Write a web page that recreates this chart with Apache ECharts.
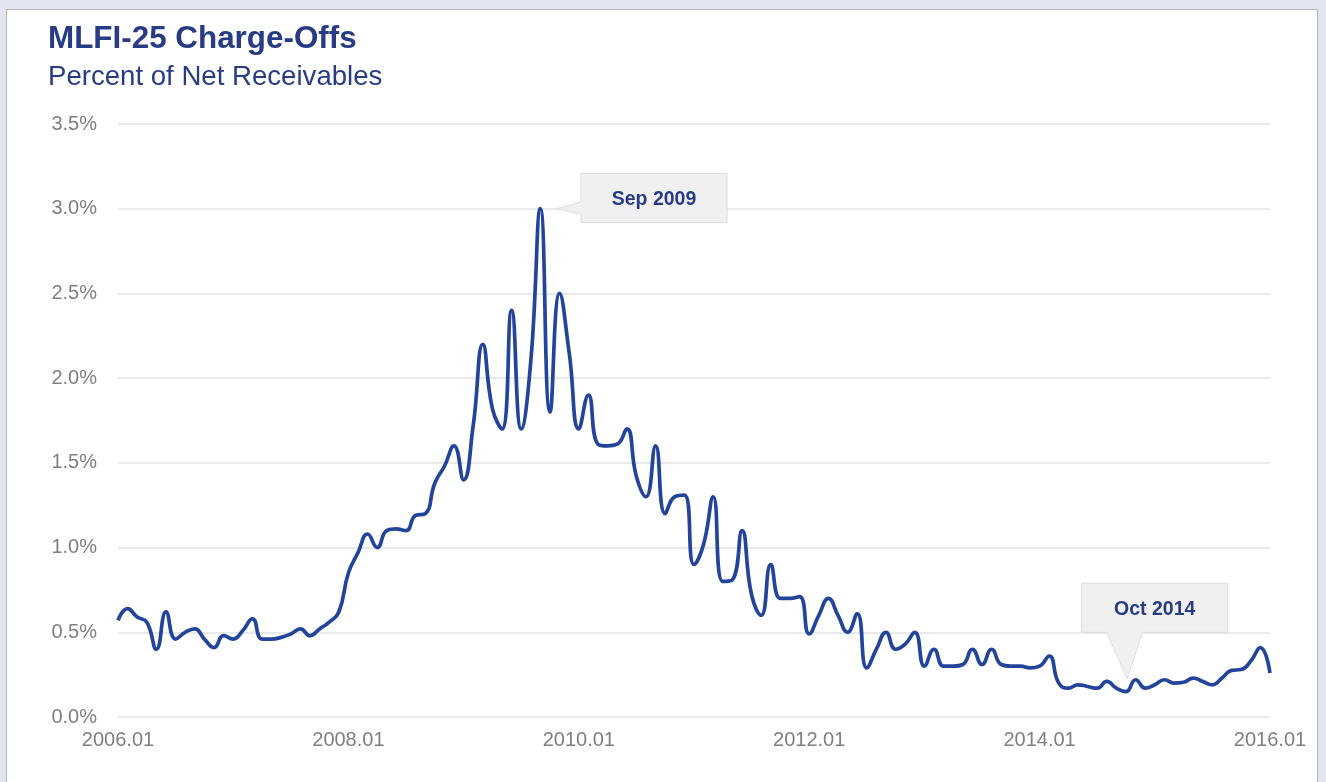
<!DOCTYPE html>
<html>
<head>
<meta charset="utf-8">
<script src="https://cdn.jsdelivr.net/npm/echarts@6/dist/echarts.min.js"></script>
<style>
  html, body { margin: 0; padding: 0; width: 1326px; height: 782px; overflow: hidden; background: #e1e6f0; }
  #panel { position: absolute; left: 6px; top: 9px; width: 1312px; height: 800px; background: #ffffff; border: 1px solid #b4b4b4; box-sizing: border-box; }
  #chart { position: absolute; left: 0; top: 0; width: 1326px; height: 782px; }
</style>
</head>
<body>
<div id="panel"></div>
<div id="chart"></div>
<script>
// Chart data
const titleText = 'MLFI-25 Charge-Offs';
const subtitleText = 'Percent of Net Receivables';
const startYear = 2006;
const monthCount = 121; // 2006.01 .. 2016.01
const chargeOffs = [
  0.57, 0.64, 0.59, 0.56, 0.40, 0.62, 0.46, 0.50, 0.52, 0.46, 0.41, 0.48,
  0.46, 0.51, 0.58, 0.46, 0.46, 0.47, 0.49, 0.52, 0.48, 0.52, 0.56, 0.62,
  0.85, 0.97, 1.08, 1.00, 1.10, 1.11, 1.10, 1.19, 1.20, 1.38, 1.48, 1.60,
  1.40, 1.72, 2.20, 1.82, 1.70, 2.40, 1.70, 2.10, 3.00, 1.80, 2.50, 2.15,
  1.70, 1.90, 1.61, 1.60, 1.61, 1.70, 1.42, 1.30, 1.60, 1.20, 1.30, 1.31,
  0.90, 1.02, 1.30, 0.80, 0.81, 1.10, 0.72, 0.60, 0.90, 0.70, 0.70, 0.71,
  0.49, 0.60, 0.70, 0.60, 0.50, 0.61, 0.29, 0.40, 0.50, 0.40, 0.43, 0.50,
  0.30, 0.40, 0.30, 0.30, 0.31, 0.40, 0.31, 0.40, 0.31, 0.30, 0.30, 0.29,
  0.30, 0.36, 0.20, 0.17, 0.19, 0.18, 0.17, 0.21, 0.17, 0.15, 0.22, 0.17,
  0.19, 0.22, 0.20, 0.205, 0.23, 0.21, 0.19, 0.23, 0.275, 0.28, 0.33, 0.41,
  0.26
];
const yTicks = [0, 0.5, 1.0, 1.5, 2.0, 2.5, 3.0, 3.5];
const callouts = [
  { label: 'Sep 2009', index: 44 },
  { label: 'Oct 2014', index: 105 }
];

const months = [];
for (let i = 0; i < monthCount; i++) {
  const y = startYear + Math.floor(i / 12);
  const m = (i % 12) + 1;
  months.push(y + '.' + (m < 10 ? '0' + m : m));
}

const navy = '#283c85';
const lineColor = '#22449a';
const font = 'Liberation Sans, Arial, sans-serif';
const chart = echarts.init(document.getElementById('chart'), null, { renderer: 'canvas' });

chart.setOption({
  animation: false,
  backgroundColor: 'transparent',
  title: [
    { text: titleText, left: 48, top: 24, padding: 0, textStyle: { fontFamily: font, fontSize: 31.4, fontWeight: 'bold', color: navy } },
    { text: subtitleText, left: 48, top: 63, padding: 0, textStyle: { fontFamily: font, fontSize: 27.6, fontWeight: 'normal', color: navy } }
  ],
  grid: { left: 118, right: 56, top: 124, bottom: 65, containLabel: false },
  xAxis: {
    type: 'category',
    data: months,
    boundaryGap: false,
    axisLine: { show: false },
    axisTick: { show: false },
    splitLine: { show: false },
    axisLabel: {
      interval: 23,
      margin: 13,
      fontFamily: font,
      fontSize: 20,
      color: '#7f7f7f',
      showMinLabel: true,
      showMaxLabel: true
    }
  },
  yAxis: {
    type: 'value',
    min: yTicks[0],
    max: yTicks[yTicks.length - 1],
    interval: 0.5,
    axisLine: { show: false },
    axisTick: { show: false },
    splitLine: { show: true, lineStyle: { color: '#e2e2e2', width: 1.5 } },
    axisLabel: {
      margin: 21,
      fontFamily: font,
      fontSize: 20,
      color: '#7f7f7f',
      formatter: v => v.toFixed(1) + '%'
    }
  },
  series: [{
    type: 'line',
    data: chargeOffs,
    smooth: 0.5,
    symbol: 'none',
    lineStyle: { color: lineColor, width: 3.7 },
    z: 3
  }]
});

// Callouts anchored to data points through the chart's own scales
function buildCallouts() {
  const els = [];
  const boxFill = '#f0f0f0', boxStroke = '#dcdcdc';
  // Sep 2009: box to the right, arrow pointing left
  {
    const c = callouts[0];
    const p = chart.convertToPixel({ seriesIndex: 0 }, [c.index, chargeOffs[c.index]]);
    const tip = [p[0] + 16, p[1]];
    const bx = p[0] + 40.6, by = p[1] - 35.2, w = 146, h = 49;
    els.push({
      type: 'polygon', z: 10,
      shape: { points: [[bx, by], [bx + w, by], [bx + w, by + h], [bx, by + h], [bx, p[1] + 5.5], tip, [bx, p[1] - 6.8]] },
      style: { fill: boxFill, stroke: boxStroke, lineWidth: 1 }
    });
    els.push({
      type: 'text', z: 11,
      style: { text: c.label, x: bx + w / 2, y: by + h / 2 + 1.5, align: 'center', verticalAlign: 'middle',
        fontFamily: font, fontSize: 19.5, fontWeight: 'bold', fill: navy }
    });
  }
  // Oct 2014: box above, arrow pointing down
  {
    const c = callouts[1];
    const p = chart.convertToPixel({ seriesIndex: 0 }, [c.index, chargeOffs[c.index]]);
    const tip = [p[0] + 1, p[1] - 13];
    const bx = p[0] - 44.3, by = p[1] - 108.3, w = 146, h = 49;
    els.push({
      type: 'polygon', z: 10,
      shape: { points: [[bx, by], [bx + w, by], [bx + w, by + h], [p[0] + 16.7, by + h], tip, [p[0] - 19.3, by + h], [bx, by + h]] },
      style: { fill: boxFill, stroke: boxStroke, lineWidth: 1 }
    });
    els.push({
      type: 'text', z: 11,
      style: { text: c.label, x: bx + w / 2, y: by + h / 2 + 1.5, align: 'center', verticalAlign: 'middle',
        fontFamily: font, fontSize: 19.5, fontWeight: 'bold', fill: navy }
    });
  }
  chart.setOption({ graphic: els });
}
buildCallouts();
</script>
</body>
</html>
